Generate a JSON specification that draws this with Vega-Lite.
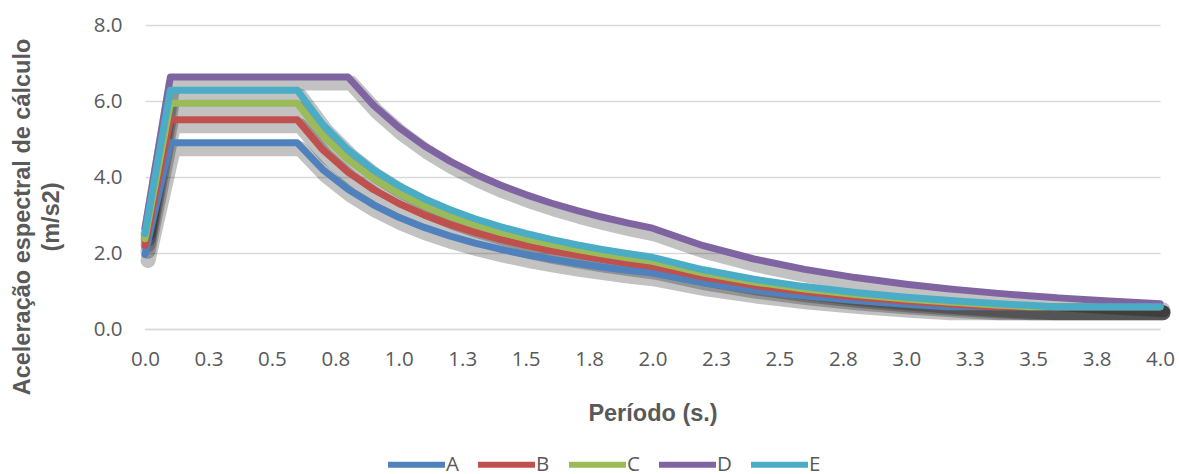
{
  "$schema": "https://vega.github.io/schema/vega-lite/v6.json",
  "width": 1015,
  "height": 304,
  "autosize": {"type": "none"},
  "padding": {"left": 145, "top": 25, "right": 19, "bottom": 145},
  "background": "white",
  "config": {
    "view": {"stroke": null},
    "font": "Open Sans"
  },
  "data": {
    "values": [
      {"T": 0, "A": 1.96, "B": 2.202, "C": 2.376, "D": 2.652, "E": 2.514},
      {"T": 0.1, "A": 4.9, "B": 5.506, "C": 5.939, "D": 6.631, "E": 6.285},
      {"T": 0.6, "A": 4.9, "B": 5.506, "C": 5.939, "D": 6.631, "E": 6.285},
      {"T": 0.7, "A": 4.2, "B": 4.719, "C": 5.091, "D": 6.631, "E": 5.387},
      {"T": 0.8, "A": 3.675, "B": 4.13, "C": 4.454, "D": 6.631, "E": 4.714},
      {"T": 0.9, "A": 3.267, "B": 3.671, "C": 3.959, "D": 5.894, "E": 4.19},
      {"T": 1.0, "A": 2.94, "B": 3.304, "C": 3.563, "D": 5.305, "E": 3.771},
      {"T": 1.1, "A": 2.673, "B": 3.003, "C": 3.239, "D": 4.823, "E": 3.428},
      {"T": 1.2, "A": 2.45, "B": 2.753, "C": 2.97, "D": 4.421, "E": 3.143},
      {"T": 1.3, "A": 2.262, "B": 2.541, "C": 2.741, "D": 4.081, "E": 2.901},
      {"T": 1.4, "A": 2.1, "B": 2.36, "C": 2.545, "D": 3.789, "E": 2.694},
      {"T": 1.5, "A": 1.96, "B": 2.202, "C": 2.376, "D": 3.537, "E": 2.514},
      {"T": 1.6, "A": 1.838, "B": 2.065, "C": 2.227, "D": 3.316, "E": 2.357},
      {"T": 1.7, "A": 1.729, "B": 1.943, "C": 2.096, "D": 3.121, "E": 2.218},
      {"T": 1.8, "A": 1.633, "B": 1.835, "C": 1.98, "D": 2.947, "E": 2.095},
      {"T": 1.9, "A": 1.547, "B": 1.739, "C": 1.875, "D": 2.792, "E": 1.985},
      {"T": 2.0, "A": 1.47, "B": 1.652, "C": 1.782, "D": 2.653, "E": 1.886},
      {"T": 2.2, "A": 1.215, "B": 1.365, "C": 1.473, "D": 2.192, "E": 1.558},
      {"T": 2.4, "A": 1.021, "B": 1.147, "C": 1.237, "D": 1.842, "E": 1.309},
      {"T": 2.6, "A": 0.87, "B": 0.977, "C": 1.054, "D": 1.57, "E": 1.116},
      {"T": 2.8, "A": 0.75, "B": 0.843, "C": 0.909, "D": 1.353, "E": 0.962},
      {"T": 3.0, "A": 0.653, "B": 0.734, "C": 0.792, "D": 1.179, "E": 0.838},
      {"T": 3.162, "A": 0.588, "B": 0.661, "C": 0.713, "D": 1.061, "E": 0.754},
      {"T": 3.2, "A": 0.588, "B": 0.645, "C": 0.696, "D": 1.036, "E": 0.737},
      {"T": 3.352, "A": 0.588, "B": 0.588, "C": 0.634, "D": 0.944, "E": 0.671},
      {"T": 3.4, "A": 0.588, "B": 0.588, "C": 0.617, "D": 0.918, "E": 0.652},
      {"T": 3.482, "A": 0.588, "B": 0.588, "C": 0.588, "D": 0.875, "E": 0.622},
      {"T": 3.581, "A": 0.588, "B": 0.588, "C": 0.588, "D": 0.827, "E": 0.588},
      {"T": 3.6, "A": 0.588, "B": 0.588, "C": 0.588, "D": 0.819, "E": 0.588},
      {"T": 3.8, "A": 0.588, "B": 0.588, "C": 0.588, "D": 0.735, "E": 0.588},
      {"T": 4.0, "A": 0.588, "B": 0.588, "C": 0.588, "D": 0.663, "E": 0.588}
    ]
  },
  "transform": [
    {"fold": ["A", "B", "C", "D", "E"], "as": ["serie", "Sd"]}
  ],
  "encoding": {
    "x": {
      "field": "T",
      "type": "quantitative",
      "scale": {"domain": [0, 4], "nice": false, "zero": false},
      "axis": {
        "values": [0, 0.25, 0.5, 0.75, 1, 1.25, 1.5, 1.75, 2, 2.25, 2.5, 2.75, 3, 3.25, 3.5, 3.75, 4],
        "format": ".1f",
        "grid": false,
        "domain": true,
        "domainColor": "#d9d9d9",
        "domainWidth": 1.5,
        "ticks": false,
        "labelFont": "Open Sans",
        "labelFontSize": 20.5,
        "labelColor": "#595959",
        "labelPadding": 20,
        "labelFlush": false,
        "labelOverlap": false,
        "title": "Período (s.)",
        "titleFont": "Liberation Sans",
        "titleFontWeight": "bold",
        "titleFontSize": 23.5,
        "titleColor": "#595959",
        "titleBaseline": "alphabetic",
        "titleY": 91,
        "titleX": 507.5,
        "titleAlign": "center"
      }
    },
    "y": {
      "field": "Sd",
      "type": "quantitative",
      "scale": {"domain": [0, 8], "nice": false},
      "axis": {
        "values": [0, 2, 4, 6, 8],
        "format": ".1f",
        "grid": true,
        "gridColor": "#d9d9d9",
        "gridWidth": 1.5,
        "domain": false,
        "ticks": false,
        "labelFont": "Open Sans",
        "labelFontSize": 20.5,
        "labelColor": "#595959",
        "labelPadding": 23,
        "title": ["Aceleração espectral de cálculo", "(m/s2)"],
        "titleFont": "Liberation Sans",
        "titleFontWeight": "bold",
        "titleFontSize": 23.5,
        "titleColor": "#595959",
        "titleAngle": -90,
        "titleAlign": "center",
        "titleBaseline": "alphabetic",
        "titleLineHeight": 29,
        "titleX": -116,
        "titleY": 191.5
      }
    }
  },
  "layer": [
    {
      "mark": {"type": "line", "strokeWidth": 15, "opacity": 0.24, "color": "#000000", "xOffset": 3, "yOffset": 6, "strokeCap": "round", "strokeJoin": "round"},
      "encoding": {"detail": {"field": "serie"}}
    },
    {
      "mark": {"type": "line", "strokeWidth": 7, "strokeCap": "round", "strokeJoin": "round"},
      "encoding": {
        "color": {
          "field": "serie",
          "type": "nominal",
          "scale": {"domain": ["A", "B", "C", "D", "E"], "range": ["#4f81bd", "#c0504d", "#9bbb59", "#8064a2", "#4bacc6"]},
          "legend": {
            "title": null,
            "orient": "none",
            "direction": "horizontal",
            "legendX": 240,
            "legendY": 408,
            "padding": 0,
            "symbolType": "stroke",
            "symbolSize": 3249,
            "symbolStrokeWidth": 6,
            "labelFont": "Open Sans",
            "labelFontSize": 20.5,
            "labelColor": "#595959",
            "labelOffset": -2,
            "columnPadding": 7
          }
        }
      }
    }
  ]
}
